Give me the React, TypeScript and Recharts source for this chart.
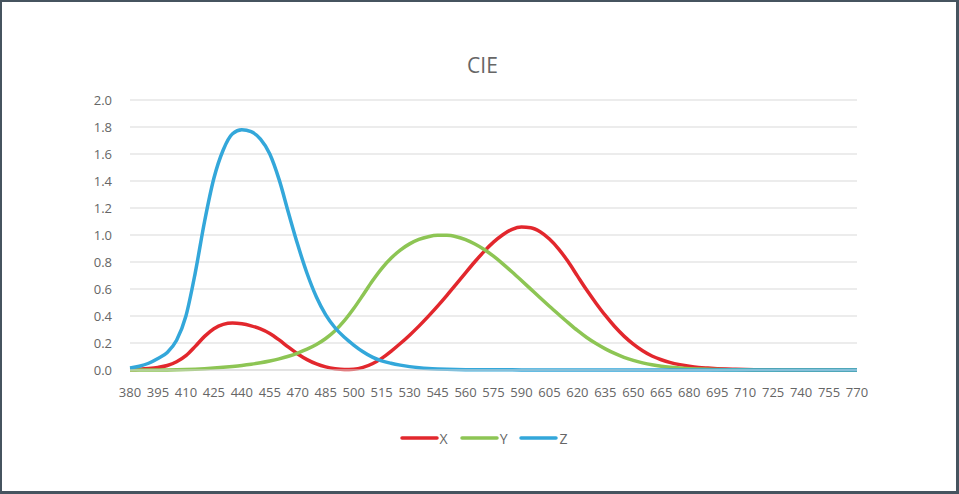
import React from 'react'
import { LineChart, Line, XAxis, YAxis, CartesianGrid, Legend } from 'recharts'

// wavelengths, nm (5 nm steps)
const wavelengths = [
  380, 385, 390, 395, 400, 405, 410, 415, 420, 425, 430, 435, 440, 445, 450, 455, 460, 465, 470, 475,
  480, 485, 490, 495, 500, 505, 510, 515, 520, 525, 530, 535, 540, 545, 550, 555, 560, 565, 570, 575,
  580, 585, 590, 595, 600, 605, 610, 615, 620, 625, 630, 635, 640, 645, 650, 655, 660, 665, 670, 675,
  680, 685, 690, 695, 700, 705, 710, 715, 720, 725, 730, 735, 740, 745, 750, 755, 760, 765, 770,
]

const xValues = [
  0.003, 0.006, 0.011, 0.019, 0.033, 0.061, 0.106, 0.175, 0.249, 0.306, 0.338, 0.348, 0.342, 0.327, 0.305, 0.271, 0.223, 0.169, 0.119, 0.077,
  0.045, 0.023, 0.01, 0.004, 0.006, 0.019, 0.046, 0.086, 0.138, 0.196, 0.258, 0.325, 0.397, 0.473, 0.553, 0.636, 0.72, 0.802, 0.879, 0.947,
  1.002, 1.042, 1.059, 1.054, 1.024, 0.97, 0.896, 0.803, 0.697, 0.592, 0.495, 0.404, 0.322, 0.251, 0.192, 0.143, 0.104, 0.076, 0.055, 0.04,
  0.028, 0.019, 0.014, 0.01, 0.007, 0.005, 0.0035, 0.0025, 0.0017, 0.0012, 0.0008, 0.0006, 0.0004, 0.0003, 0.0002, 0.0001, 0.0001, 0.0001, 0.0001,
]

const yValues = [
  0.0001, 0.0002, 0.0003, 0.0005, 0.0009, 0.0017, 0.0031, 0.0057, 0.0095, 0.0142, 0.0199, 0.0264, 0.0339, 0.043, 0.054, 0.067, 0.0824, 0.1018, 0.1258, 0.1542,
  0.1887, 0.2333, 0.2908, 0.3652, 0.4552, 0.5556, 0.6591, 0.7516, 0.8276, 0.8884, 0.9344, 0.9672, 0.9876, 0.9975, 0.9975, 0.9868, 0.9653, 0.9337, 0.8927, 0.8432,
  0.7867, 0.726, 0.663, 0.5989, 0.5349, 0.4721, 0.4111, 0.351, 0.293, 0.241, 0.196, 0.1566, 0.1226, 0.0943, 0.0713, 0.0528, 0.0383, 0.0276, 0.0201, 0.0145,
  0.0101, 0.007, 0.0049, 0.0035, 0.0025, 0.0018, 0.0013, 0.0009, 0.0006, 0.0004, 0.0003, 0.0002, 0.00015, 0.0001, 0.00007, 0.00005, 0.00004, 0.00003, 0.00002,
]

const zValues = [
  0.015, 0.028, 0.05, 0.085, 0.13, 0.22, 0.4, 0.72, 1.1, 1.42, 1.63, 1.75, 1.78, 1.765, 1.71, 1.6, 1.41, 1.165, 0.927, 0.715,
  0.541, 0.409, 0.313, 0.242, 0.185, 0.135, 0.095, 0.068, 0.05, 0.036, 0.025, 0.017, 0.011, 0.0073, 0.0048, 0.0033, 0.0024, 0.002, 0.0017, 0.0015,
  0.0013, 0.0011, 0.0009, 0.0007, 0.0005, 0.0003, 0.0002, 0.0001, 0.0001, 0, 0, 0, 0, 0, 0, 0, 0, 0, 0, 0,
  0, 0, 0, 0, 0, 0, 0, 0, 0, 0, 0, 0, 0, 0, 0, 0, 0, 0, 0,
]

const yTicks = [0, 0.2, 0.4, 0.6, 0.8, 1.0, 1.2, 1.4, 1.6, 1.8, 2.0]

const data = wavelengths.map((w, i) => ({
  nm: w,
  X: xValues[i],
  Y: yValues[i],
  Z: zValues[i],
}))

const FONT = '"Open Sans", "Noto Sans", sans-serif'
const TEXT = '#666666'

const renderLegend = (props: any) => {
  const { payload } = props
  return (
    <div style={{ display: 'flex', justifyContent: 'center', height: 20, alignItems: 'center', paddingLeft: 8 }}>
      {payload.map((entry: any) => (
        <div key={entry.value} style={{ display: 'flex', alignItems: 'center', margin: '0 6px' }}>
          <svg width={39} height={6} style={{ marginRight: 1 }}>
            <line x1={2} y1={3} x2={37} y2={3} stroke={entry.color} strokeWidth={3.5} strokeLinecap="round" />
          </svg>
          <span style={{ fontFamily: FONT, fontSize: 14, color: TEXT }}>{entry.value}</span>
        </div>
      ))}
    </div>
  )
}

export default function App() {
  return (
    <div style={{ position: 'absolute', left: 0, top: 0, width: 959, height: 494, background: '#fff' }}>
      <div
        style={{
          position: 'absolute',
          left: 0,
          top: 51,
          width: 965,
          textAlign: 'center',
          fontFamily: FONT,
          fontSize: 21,
          color: TEXT,
        }}
      >
        CIE
      </div>
      <LineChart width={959} height={494} data={data} margin={{ top: 100, right: 102, left: 0, bottom: 74 }}>
        <CartesianGrid vertical={false} stroke="#d9d9d9" />
        <XAxis
          dataKey="nm"
          interval={2}
          tickLine={false}
          axisLine={{ stroke: '#d9d9d9' }}
          tickMargin={12}
          height={30}
          tick={{ fontFamily: FONT, fontSize: 13, fill: TEXT }}
        />
        <YAxis
          width={130}
          domain={[0, 2]}
          ticks={yTicks}
          tickFormatter={(v: number) => v.toFixed(1)}
          tickLine={false}
          axisLine={false}
          tickMargin={12}
          tick={{ fontFamily: FONT, fontSize: 13, fill: TEXT }}
        />
        <Legend content={renderLegend} verticalAlign="bottom" wrapperStyle={{ top: 428, left: 0, width: 959 }} />
        <Line type="monotone" dataKey="X" stroke="#e2272d" strokeWidth={3.5} dot={false} isAnimationActive={false} />
        <Line type="monotone" dataKey="Y" stroke="#8dc554" strokeWidth={3.5} dot={false} isAnimationActive={false} />
        <Line type="monotone" dataKey="Z" stroke="#33a7da" strokeWidth={3.5} dot={false} isAnimationActive={false} />
      </LineChart>
      <div
        style={{
          position: 'absolute',
          left: 0,
          top: 0,
          width: 959,
          height: 494,
          boxSizing: 'border-box',
          borderStyle: 'solid',
          borderColor: '#46545f',
          borderWidth: '2px 3px 3px 2px',
          pointerEvents: 'none',
        }}
      />
    </div>
  )
}
